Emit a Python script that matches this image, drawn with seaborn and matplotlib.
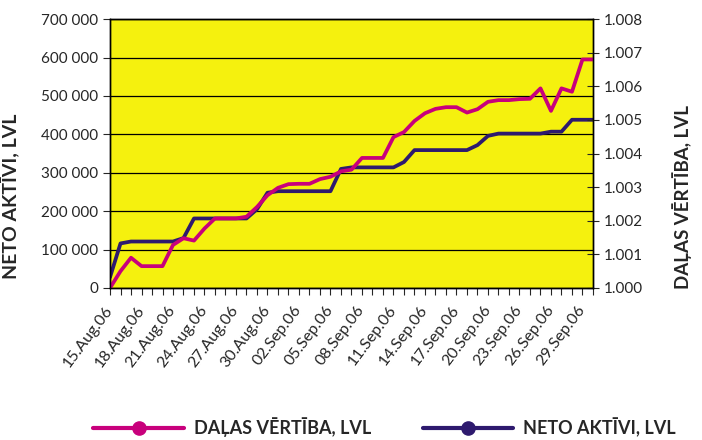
import seaborn as sns
import matplotlib.pyplot as plt
import matplotlib.ticker as mticker
import matplotlib.transforms as mtransforms
from matplotlib.lines import Line2D
import pandas as pd

# dienas no 15.08.2006 līdz 30.09.2006
dates = pd.date_range("2006-08-15", "2006-09-30", freq="D")

tick_labels = ["15.Aug.06", "18.Aug.06", "21.Aug.06", "24.Aug.06", "27.Aug.06",
               "30.Aug.06", "02.Sep.06", "05.Sep.06", "08.Sep.06", "11.Sep.06",
               "14.Sep.06", "17.Sep.06", "20.Sep.06", "23.Sep.06", "26.Sep.06",
               "29.Sep.06"]

# neto aktivi, LVL
neto_aktivi = [28000, 116000, 121000, 121000, 121000, 121000, 121000, 130000,
               181000, 181000, 181000, 181000, 181000, 181000, 205000, 248000,
               252000, 252000, 252000, 252000, 252000, 252000, 310000, 314000,
               314000, 314000, 314000, 314000, 328000, 359000, 359000, 359000,
               359000, 359000, 359000, 372000, 396000, 402000, 402000, 402000,
               402000, 402000, 407000, 407000, 438000, 438000, 438000]

# dalas vertiba, LVL
dalas_vertiba = [1.0000, 1.0005, 1.0009, 1.00065, 1.00065, 1.00065, 1.00128,
                 1.00148, 1.00141, 1.00177, 1.00207, 1.00207, 1.00207, 1.00212,
                 1.00241, 1.00276, 1.00298, 1.00309, 1.00310, 1.00310, 1.00324,
                 1.00331, 1.00347, 1.00352, 1.00387, 1.00387, 1.00387, 1.00449,
                 1.00464, 1.00497, 1.00520, 1.00533, 1.00538, 1.00538, 1.00522,
                 1.00532, 1.00554, 1.00559, 1.00559, 1.00562, 1.00563, 1.00594,
                 1.00527, 1.00594, 1.00584, 1.00680, 1.00680]

df = pd.DataFrame({"datums": dates, "neto": neto_aktivi, "dala": dalas_vertiba})

PINK = "#C8007C"
PURPLE = "#2E1A6E"
YELLOW = "#F5F10E"

sns.set_style("white")
plt.rcParams["font.family"] = ["Lato", "DejaVu Sans"]

fig = plt.figure(figsize=(7.02, 4.40), dpi=100)
ax = fig.add_axes([0.1567, 0.3455, 0.688, 0.611])
ax.set_facecolor(YELLOW)

sns.lineplot(data=df, x="datums", y="neto", ax=ax, color=PURPLE,
             linewidth=2.7, legend=False)

ax2 = ax.twinx()
sns.lineplot(data=df, x="datums", y="dala", ax=ax2, color=PINK,
             linewidth=2.7, legend=False)

ax.set_xlim(dates[0], dates[-1])
ax.set_ylim(0, 700000)
ax2.set_ylim(1.000, 1.008)

ax.yaxis.set_major_locator(mticker.MultipleLocator(100000))
ax.yaxis.set_major_formatter(
    mticker.FuncFormatter(lambda v, p: f"{int(v):,}".replace(",", " ")))
ax2.yaxis.set_major_locator(mticker.MultipleLocator(0.001))
ax2.yaxis.set_major_formatter(mticker.FormatStrFormatter("%.3f"))

ax.set_xticks(dates[::3])
ax.set_xticklabels(tick_labels, rotation=53, ha="right", va="center",
                   rotation_mode="anchor", fontsize=11.5)
ax.set_xticks(dates, minor=True)
# nobīda datumus nedaudz pa labi, kā oriģinālā
shift = mtransforms.ScaledTranslation(9 / 100, 0, fig.dpi_scale_trans)
for lbl in ax.get_xticklabels():
    lbl.set_transform(lbl.get_transform() + shift)

ax.grid(axis="y", color="black", linewidth=0.9)
ax.set_axisbelow(True)

for a in (ax, ax2):
    for s in a.spines.values():
        s.set_color("black")
        s.set_linewidth(1.0)
ax2.patch.set_visible(False)

ax.tick_params(axis="x", which="both", direction="out", length=5, width=0.8,
               pad=9, bottom=True)
ax.tick_params(axis="y", direction="out", length=5, width=0.8, labelsize=11,
               left=True)
ax2.tick_params(axis="y", direction="inout", length=8, width=0.8, labelsize=11,
                right=True)

ax.set_xlabel("")
ax.set_ylabel("NETO AKTĪVI, LVL", fontsize=14, fontweight="bold")
ax.yaxis.set_label_coords(-0.185, 0.34)
ax2.set_ylabel("DAĻAS VĒRTĪBA, LVL", fontsize=13.5, fontweight="bold")
ax2.yaxis.set_label_coords(1.165, 0.34)

handles = [
    Line2D([0, 0.5, 1], [0, 0, 0], color=PINK, linewidth=3, marker="o",
           markersize=9.5, markevery=[1]),
    Line2D([0, 0.5, 1], [0, 0, 0], color=PURPLE, linewidth=3, marker="o",
           markersize=9.5, markevery=[1]),
]
leg = fig.legend(handles, ["DAĻAS VĒRTĪBA, LVL", "NETO AKTĪVI, LVL"],
                 loc="center", bbox_to_anchor=(0.548, 0.029),
                 ncol=2, frameon=False, handlelength=5, columnspacing=2.9,
                 prop={"size": 13, "weight": "bold"}, handletextpad=0.55)

fig.savefig("out.png", dpi=100)
